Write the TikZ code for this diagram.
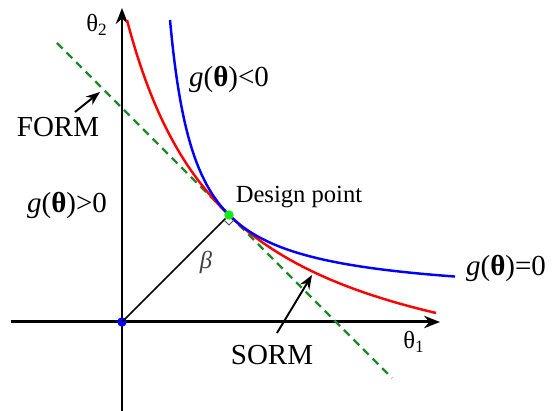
\documentclass[tikz,border=0pt]{standalone}
\usepackage{fontspec}
\setmainfont{Liberation Serif}
\usetikzlibrary{arrows.meta}

\definecolor{verdeform}{RGB}{30,135,40}
\definecolor{verdepunto}{RGB}{20,235,20}

\begin{document}
\begin{tikzpicture}[
  x=0.02cm, y=0.02cm,
  font=\fontsize{14}{16}\selectfont,
  asse/.style={draw=black, line width=1.7pt, -{Stealth[length=9pt, width=7pt]}},
  freccia/.style={draw=black, line width=1.1pt, -{Stealth[length=8pt, width=6pt]}},
  curva/.style={line width=1.4pt},
  tratteggio/.style={draw=verdeform, line width=1.4pt, dash pattern=on 4.5pt off 3.2pt},
  etichetta/.style={inner sep=1pt},
  grande/.style={inner sep=1pt, font=\fontsize{16.5}{18}\selectfont},
  punto/.style={circle, inner sep=0pt, minimum size=0.19cm}
]
\useasboundingbox (-122,-89) rectangle (430,322);

%--------------------------------------------------------------
% Assi theta1 e theta2
%--------------------------------------------------------------
\coordinate (xa) at (-111,0);
\coordinate (xb) at (318,0);
\coordinate (ya) at (0,-89);
\coordinate (yb) at (0,314);
\draw[asse] (xa) -- (xb);
\draw[asse] (ya) -- (yb);
\node[etichetta] (t1) at (292,-20) {θ\textsubscript{1}};
\node[etichetta] (t2) at (-25,297) {θ\textsubscript{2}};

%--------------------------------------------------------------
% FORM: iperpiano tangente nel punto di progetto
%--------------------------------------------------------------
\coordinate (fa) at (-65,279);
\coordinate (fb) at (270,-56);
\draw[tratteggio] (fa) -- (fb);

%--------------------------------------------------------------
% Superficie limite g=0 (blu) e approssimazione SORM (rossa)
%--------------------------------------------------------------
\draw[curva, red] plot[domain=5:314, samples=120, smooth] (\x, {199*(199/(\x+96.7))-87.4});
\draw[curva, blue] plot[domain=48:333, samples=120, smooth] (\x, {84.6*(84.6/(\x-22.4))+22.4});

%--------------------------------------------------------------
% Origine, punto di progetto e indice beta
%--------------------------------------------------------------
\node[punto, fill=blue] (O) at (0,0) {};
\node[punto, fill=verdepunto] (P) at (107,107) {};
\draw[black, line width=0.9pt] (O.center) -- (P);
\draw[black!70, line width=0.5pt] ([shift={(-5,-5)}]P.center) -- ++(5,-5) -- ++(5,5);
\node[etichetta, text=black!75] (beta) at (84,60) {\textit{β}};

%--------------------------------------------------------------
% Etichette delle regioni
%--------------------------------------------------------------
\node[grande] (gneg) at (107,243) {\textit{g}(\textbf{θ})<0};
\node[grande] (gpos) at (-55,117) {\textit{g}(\textbf{θ})>0};
\node[grande] (gzero) at (384,54) {\textit{g}(\textbf{θ})=0};
\node[etichetta] (dp) at (177,125) {Design point};

%--------------------------------------------------------------
% Frecce FORM e SORM
%--------------------------------------------------------------
\node[grande] (form) at (-64,195) {FORM};
\coordinate (formtip) at (-22,230);
\draw[freccia] (-47,210) -- (formtip);
\node[grande] (sorm) at (150,-33) {SORM};
\coordinate (sormtip) at (190,47);
\draw[freccia] (155,-11) -- (sormtip);

\end{tikzpicture}
\end{document}
